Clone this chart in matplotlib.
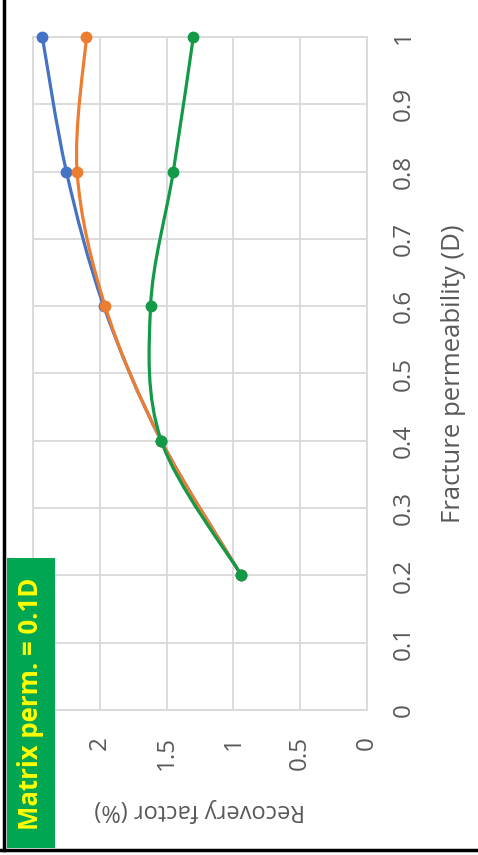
import numpy as np
import matplotlib
matplotlib.use("Agg")
import matplotlib.pyplot as plt
from matplotlib.path import Path
from matplotlib.patches import PathPatch, Rectangle
from matplotlib.lines import Line2D

# fracture permeability (D) and recovery factor (%) for the three runs
frac_perm = [0.2, 0.4, 0.6, 0.8, 1.0]
rf_run1 = [0.94, 1.54, 1.97, 2.25, 2.43]
rf_run2 = [0.94, 1.54, 1.96, 2.17, 2.10]
rf_run3 = [0.94, 1.54, 1.62, 1.45, 1.30]

rf_ticks = [0, 0.5, 1, 1.5, 2, 2.5]
rf_tick_labels = ["0", "0.5", "1", "1.5", "2", ""]
perm_ticks = [0, 0.1, 0.2, 0.3, 0.4, 0.5, 0.6, 0.7, 0.8, 0.9, 1]
perm_tick_labels = ["0", "0.1", "0.2", "0.3", "0.4", "0.5", "0.6", "0.7", "0.8", "0.9", "1"]

plt.rcParams["font.family"] = ["Open Sans", "DejaVu Sans"]
TXT = "#595959"
GRID = "#D9D9D9"


def smooth_path(xs, ys):
    # cubic bezier through the points, excel-style smoothing
    pts = np.column_stack([xs, ys]).astype(float)
    n = len(pts)
    verts = [pts[0]]
    codes = [Path.MOVETO]
    for i in range(n - 1):
        p0 = pts[i - 1] if i > 0 else pts[i]
        p1 = pts[i]
        p2 = pts[i + 1]
        p3 = pts[i + 2] if i + 2 < n else pts[i + 1]
        c1 = p1 + (p2 - p0) / 6.0
        c2 = p2 - (p3 - p1) / 6.0
        verts += [c1, c2, p2]
        codes += [Path.CURVE4] * 3
    return Path(verts, codes)


W, H = 478, 855
fig = plt.figure(figsize=(W / 100, H / 100), dpi=100)
ax = fig.add_axes([33 / W, (H - 710) / H, (367 - 33) / W, (710 - 37) / H])

series = [(rf_run1, "#4472C4"), (rf_run2, "#ED7D31"), (rf_run3, "#129A48")]
for k, (rf, col) in enumerate(series):
    ax.add_patch(PathPatch(smooth_path(rf, frac_perm), facecolor="none",
                           edgecolor=col, lw=2.3, zorder=3 + k, capstyle="round"))
    ax.plot(rf, frac_perm, "o", color=col, ms=7.5, zorder=3 + k, clip_on=False)

ax.set_xlim(2.5, 0)
ax.set_ylim(0, 1)
ax.set_xticks(rf_ticks)
ax.set_xticklabels(rf_tick_labels, rotation=90, va="top", ha="center")
ax.set_yticks(perm_ticks)
ax.set_yticklabels(perm_tick_labels, rotation=90, va="center", ha="left")
ax.yaxis.tick_right()
ax.yaxis.set_label_position("right")
ax.tick_params(axis="x", length=0, pad=19, labelsize=17.5, colors=TXT)
ax.tick_params(axis="y", length=0, pad=18, labelsize=17.5, colors=TXT)
ax.grid(True, color=GRID, lw=1.3)
ax.set_axisbelow(True)
for s in ax.spines.values():
    s.set_color(GRID)
    s.set_linewidth(1.3)

ax.set_xlabel("Recovery factor (%)", rotation=180, fontsize=17, color=TXT, labelpad=20)
ax.set_ylabel("Fracture permeability (D)", rotation=90, fontsize=18.5, color=TXT, labelpad=18)

# label box
fig.add_artist(Rectangle((7 / W, (H - 848) / H), 48 / W, 290 / H,
                         transform=fig.transFigure, facecolor="#00A651", edgecolor="none", zorder=10))
fig.text(31 / W, (H - 704) / H, "Matrix perm. = 0.1D", rotation=90, ha="center", va="center",
         fontsize=18.5, fontweight="bold", color="#FFFF00", zorder=11)

# frame on the left and bottom edges
fig.add_artist(Line2D([4 / W, 4 / W], [(H - 850) / H, 1], color="black", lw=2.5, transform=fig.transFigure))
fig.add_artist(Line2D([0, 1], [(H - 850) / H, (H - 850) / H], color="black", lw=2.5, transform=fig.transFigure))

fig.savefig("out.png", dpi=100)
